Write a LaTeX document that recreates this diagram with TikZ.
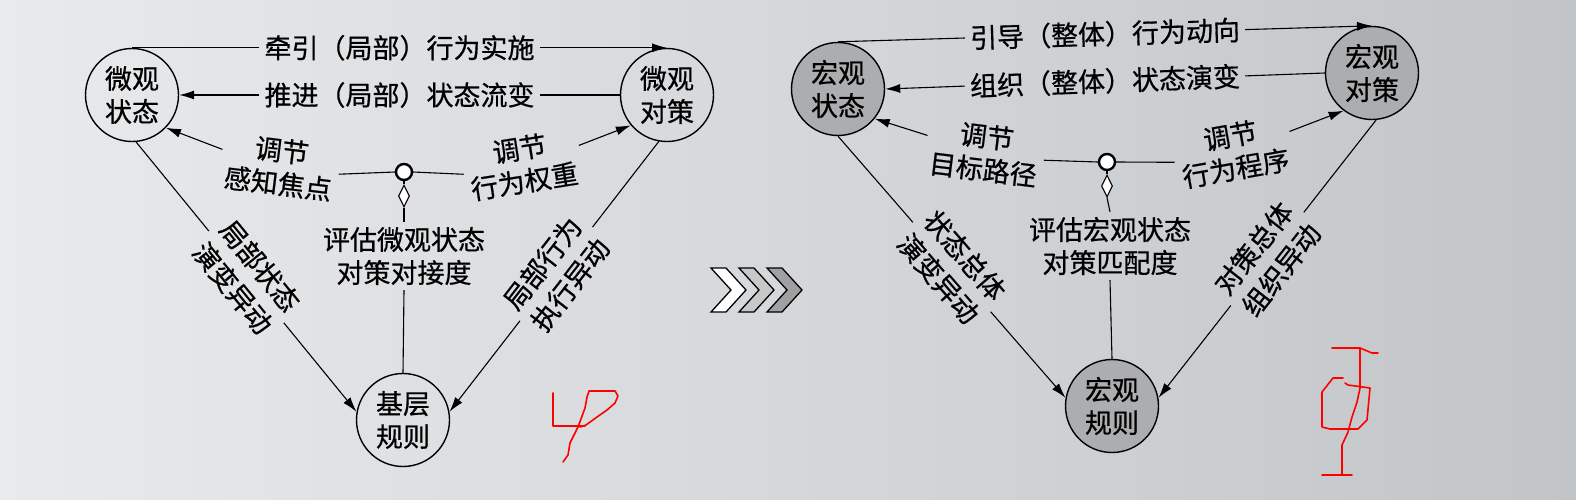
\documentclass[tikz,border=0pt]{standalone}
\usepackage{fontspec}
\setmainfont{Noto Sans CJK SC}[FakeBold=0.6]
\usetikzlibrary{arrows.meta,shapes.geometric}
\definecolor{bgleft}{RGB}{232,234,236}
\definecolor{bgright}{RGB}{194,197,200}
\definecolor{circgray}{RGB}{172,173,175}
\definecolor{chevgrayA}{RGB}{200,200,200}
\definecolor{chevgrayB}{RGB}{160,160,160}
\tikzset{
  txt/.style={font=\fontsize{27}{33}\selectfont, align=center, inner sep=5pt},
  stxt/.style={font=\fontsize{27}{35}\selectfont, align=center, inner sep=5pt},
  st/.style={circle, draw, line width=1.4pt, minimum size=93pt, inner sep=0pt,
             font=\fontsize{27}{33}\selectfont, align=center},
  gst/.style={st, fill=circgray},
  conn/.style={line width=1.1pt},
  arr/.style={conn, -{Latex[length=15pt,width=9pt]}},
  hubc/.style={circle, draw, line width=2.4pt, fill=white, minimum size=16pt, inner sep=0pt},
  dia/.style={diamond, draw, line width=1.1pt, fill=white, minimum width=11pt, minimum height=22pt, inner sep=0pt},
  chev/.style={draw, line width=1.3pt, line join=miter},
  scrib/.style={draw=red, line width=1.6pt, line join=round, line cap=round}
}
\begin{document}
\begin{tikzpicture}[x=1pt,y=-1pt]
\shade[left color=bgleft, right color=bgright] (0,0) rectangle (1576,499);
\useasboundingbox (0,0) rectangle (1576,499);

% ---------- left diagram ----------
\node[st] (ms) at (132,95) {微观\\状态};
\node[st] (mc) at (667,95) {微观\\对策};
\node[st] (base) at (403,420) {基层\\规则};

\path (ms.north) -- (mc.north) node[txt, pos=0.5] (t1) {牵引（局部）行为实施};
\draw[conn] (ms.north) -- (t1.west);
\draw[arr] (t1.east) -- (mc.north);
\path (mc.west) -- (ms.east) node[txt, pos=0.5] (t2) {推进（局部）状态流变};
\draw[conn] (mc.west) -- (t2.east);
\draw[arr] (t2.west) -- (ms.east);

\node[hubc] (hub) at (404,172) {};
\node[dia] (dd) at (404,196) {};
\draw[conn] (hub.south) -- (dd.north);
\node[txt] (ev) at (404,256) {评估微观状态\\对策对接度};
\draw[conn] (dd.south) -- (ev.north);
\draw[conn] (ev.south) -- (base.north);

\node[txt, rotate=-7] (tl) at (280,167) {调节\\感知焦点};
\draw[conn] (hub.west) -- (tl.east);
\draw[arr] (tl.170) -- (ms.-44);
\node[txt, rotate=9] (tr) at (522,165) {调节\\行为权重};
\draw[conn] (hub.east) -- (tr.west);
\draw[arr] (tr.10) -- (mc.-140);

\path (ms.-85) -- (base.170) node[stxt, sloped, pos=0.5] (ll) {局部状态\\演变异动};
\draw[conn] (ms.-85) -- (ll.west);
\draw[arr] (ll.east) -- (base.170);
\path (base.10) -- (mc.-100) node[stxt, sloped, pos=0.51] (lr) {局部行为\\执行异动};
\draw[arr] (lr.west) -- (base.10);
\draw[conn] (mc.-100) -- (lr.east);

% ---------- chevrons ----------
\draw[chev, fill=white] (711,268) -- ++(15,0) -- ++(20,22) -- ++(-20,22) -- ++(-15,0) -- ++(20,-22) -- cycle;
\draw[chev, fill=chevgrayA] (739,268) -- ++(15,0) -- ++(20,22) -- ++(-20,22) -- ++(-15,0) -- ++(20,-22) -- cycle;
\draw[chev, fill=chevgrayB] (767,268) -- ++(15,0) -- ++(20,22) -- ++(-20,22) -- ++(-15,0) -- ++(20,-22) -- cycle;

% ---------- right diagram ----------
\node[gst] (ms2) at (838,89) {宏观\\状态};
\node[gst] (mc2) at (1372,73) {宏观\\对策};
\node[gst] (base2) at (1112,406) {宏观\\规则};

\path (ms2.north) -- (mc2.north) node[txt, sloped, pos=0.5] (t3) {引导（整体）行为动向};
\draw[conn] (ms2.north) -- (t3.west);
\draw[arr] (t3.east) -- (mc2.north);
\path (ms2.east) -- (mc2.west) node[txt, sloped, pos=0.5] (t4) {组织（整体）状态演变};
\draw[conn] (mc2.west) -- (t4.east);
\draw[arr] (t4.west) -- (ms2.east);

\node[hubc] (hub2) at (1107,162) {};
\node[dia] (dd2) at (1107,186) {};
\draw[conn] (hub2.south) -- (dd2.north);
\node[txt] (ev2) at (1110,246) {评估宏观状态\\对策匹配度};
\draw[conn] (dd2.south) -- (ev2.north);
\draw[conn] (ev2.south) -- (base2.north);

\node[txt, rotate=-7] (tl2) at (985,153) {调节\\目标路径};
\draw[conn] (hub2.west) -- (tl2.east);
\draw[arr] (tl2.170) -- (ms2.-39);
\node[txt, rotate=10] (tr2) at (1233,152) {调节\\行为程序};
\draw[conn] (hub2.east) -- (tr2.west);
\draw[arr] (tr2.10) -- (mc2.-127);

\path (ms2.-90) -- (base2.170) node[stxt, sloped, pos=0.5] (rl) {状态总体\\演变异动};
\draw[conn] (ms2.-90) -- (rl.west);
\draw[arr] (rl.east) -- (base2.170);
\path (base2.10) -- (mc2.-85) node[stxt, sloped, pos=0.5] (rr) {对策总体\\组织异动};
\draw[arr] (rr.west) -- (base2.10);
\draw[conn] (mc2.-85) -- (rr.east);

% ---------- red handwritten marks ----------
\draw[scrib] (553,393) -- (553,426) -- (585,426);
\draw[scrib] (563,462) -- (568,455) -- (570,443) -- (578,427) -- (585,408) -- (587,397) -- (589,391) -- (615,391) -- (618,396) -- (615,403) -- (607,410) -- (597,417) -- (586,425) -- (580,427);
\draw[scrib] (1332,348) -- (1360,348) -- (1372,353) -- (1378,353);
\draw[scrib] (1360,348) -- (1360,388);
\draw[scrib] (1343,378) -- (1333,378) -- (1322,392) -- (1322,427) -- (1330,429) -- (1358,429) -- (1367,420) -- (1370,388) -- (1348,385) -- (1345,383);
\draw[scrib] (1360,388) -- (1357,402) -- (1352,417) -- (1348,432) -- (1342,445) -- (1342,475);
\draw[scrib] (1322,475) -- (1352,475);
\end{tikzpicture}
\end{document}
